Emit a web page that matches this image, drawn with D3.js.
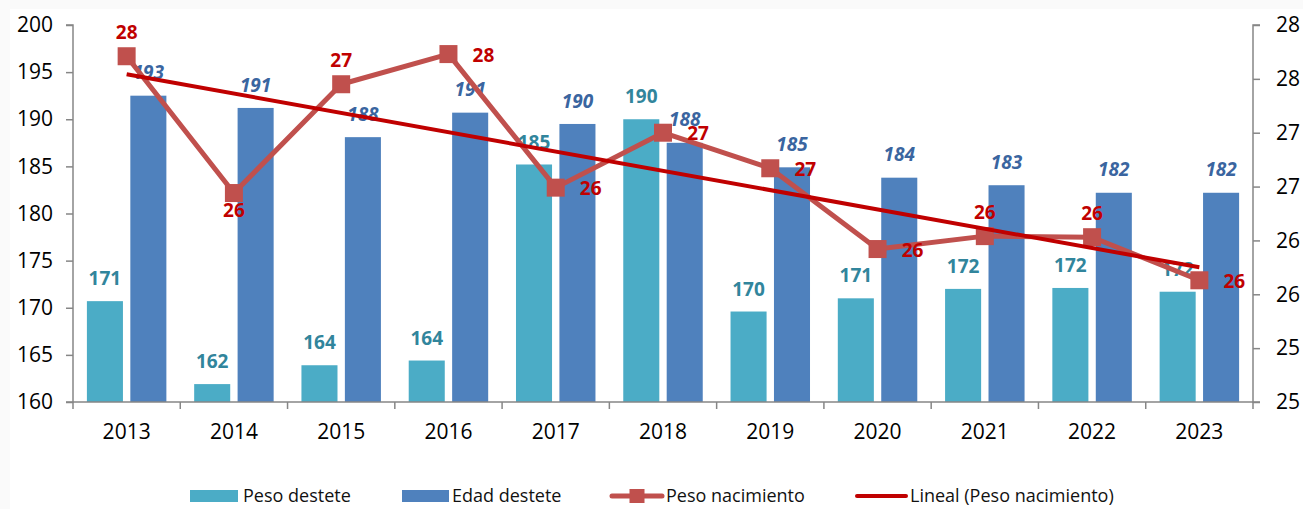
<!DOCTYPE html>
<html>
<head>
<meta charset="utf-8">
<script src="https://cdn.jsdelivr.net/npm/d3@7"></script>
<style>
  html, body { margin: 0; padding: 0; background: #ffffff; }
  svg { display: block; font-family: "Open Sans", "Noto Sans", sans-serif; }
</style>
</head>
<body>
<svg id="chart" width="1303" height="509"></svg>
<script>
// ---------- data ----------
const years = ["2013","2014","2015","2016","2017","2018","2019","2020","2021","2022","2023"];
const pesoDestete = [170.7, 161.9, 163.9, 164.4, 185.2, 190.0, 169.6, 171.0, 172.0, 172.1, 171.7];
const edadDestete = [192.5, 191.2, 188.1, 190.7, 189.5, 187.5, 184.9, 183.8, 183.0, 182.2, 182.2];
const pesoNacimiento = [27.71, 26.44, 27.45, 27.73, 26.49, 27.0, 26.67, 25.92, 26.04, 26.03, 25.63];
const leftTicks = [160, 165, 170, 175, 180, 185, 190, 195, 200];
const rightTicks = [24.5, 25, 25.5, 26, 26.5, 27, 27.5, 28];
const seriesNames = ["Peso destete", "Edad destete", "Peso nacimiento", "Lineal (Peso nacimiento)"];
// label placement of the line's data labels
const lineLabelPos = ["top","bottom","top","right","right","right","right","right","top","top","right"];

// ---------- styles ----------
const C = {
  light: "#4BACC6", dark: "#4F81BD", line: "#C0504D", trend: "#C00000",
  lightLbl: "#31859C", darkLbl: "#3A65A0", redLbl: "#C00000", axis: "#868686"
};

const svg = d3.select("#chart");
svg.append("rect").attr("width", 1303).attr("height", 509).attr("fill", "#fafafa");
svg.append("rect").attr("x", 10).attr("y", 9).attr("width", 1293).attr("height", 500).attr("fill", "#ffffff");

const L = 73, R = 1253, T = 25, B = 402;

const x = d3.scaleBand().domain(years).range([L, R]).paddingInner(0).paddingOuter(0);
const xs = d3.scaleBand().domain([0, 1]).range([0, x.bandwidth()]).paddingInner(0.17).paddingOuter(0.32);
const yL = d3.scaleLinear().domain([160, 200]).range([B, T]);
const yR = d3.scaleLinear().domain([24.5, 28]).range([B, T]);

// ---------- bars ----------
const bars = svg.append("g");
bars.selectAll("rect.l").data(pesoDestete).join("rect")
  .attr("x", (d, i) => x(years[i]) + xs(0)).attr("width", xs.bandwidth())
  .attr("y", d => yL(d)).attr("height", d => B - yL(d)).attr("fill", C.light);
bars.selectAll("rect.d").data(edadDestete).join("rect").attr("class", "d")
  .attr("x", (d, i) => x(years[i]) + xs(1)).attr("width", xs.bandwidth())
  .attr("y", d => yL(d)).attr("height", d => B - yL(d)).attr("fill", C.dark);

// ---------- axes ----------
const axL = svg.append("g").attr("transform", `translate(${L},0)`)
  .call(d3.axisLeft(yL).tickValues(leftTicks).tickSize(7).tickPadding(13).tickFormat(d3.format("d")));
const axR = svg.append("g").attr("transform", `translate(${R},0)`)
  .call(d3.axisRight(yR).tickValues(rightTicks).tickSize(7).tickPadding(16).tickFormat(d => String(Math.round(d))));
const axX = svg.append("g").attr("transform", `translate(0,${B})`)
  .call(d3.axisBottom(x).tickSize(0).tickPadding(22));
// category boundary ticks
svg.append("g").selectAll("line").data(years.concat(["end"])).join("line")
  .attr("x1", (d, i) => L + i * x.step()).attr("x2", (d, i) => L + i * x.step())
  .attr("y1", B).attr("y2", B + 7).attr("stroke", C.axis).attr("stroke-width", 1.5);

[axL, axR, axX].forEach(a => {
  a.select(".domain").attr("stroke", C.axis).attr("stroke-width", 1.5);
  a.selectAll(".tick line").attr("stroke", C.axis).attr("stroke-width", 1.5);
  a.selectAll(".tick text").attr("fill", "#000").style("font-size", "21px").style("font-family", '"Open Sans", sans-serif');
});
axL.select(".domain").attr("d", `M-7,${T}H0V${B}H-7`);
axR.select(".domain").attr("d", `M7,${T}H0V${B}H7`);
axX.select(".domain").attr("d", `M${L},0H${R}`);

// ---------- bar labels ----------
const fmt0 = d => String(Math.round(d));
svg.append("g").selectAll("text").data(pesoDestete).join("text")
  .attr("x", (d, i) => x(years[i]) + xs(0) + xs.bandwidth() / 2)
  .attr("y", d => yL(d) - 22.5).attr("dy", "0.35em").attr("text-anchor", "middle")
  .attr("fill", C.lightLbl).style("font-size", "19px").style("font-weight", "bold")
  .text(fmt0);
svg.append("g").selectAll("text").data(edadDestete).join("text")
  .attr("x", (d, i) => x(years[i]) + xs(1) + xs.bandwidth() / 2)
  .attr("y", d => yL(d) - 23).attr("dy", "0.35em").attr("text-anchor", "middle")
  .attr("fill", C.darkLbl).style("font-size", "19px").style("font-weight", "bold").style("font-style", "italic")
  .text(fmt0);

// ---------- line ----------
const cx = i => x(years[i]) + x.bandwidth() / 2;
const lineGen = d3.line().x((d, i) => cx(i)).y(d => yR(d));
svg.append("path").datum(pesoNacimiento).attr("d", lineGen)
  .attr("fill", "none").attr("stroke", C.line).attr("stroke-width", 5).attr("stroke-linejoin", "round");
svg.append("g").selectAll("rect").data(pesoNacimiento).join("rect")
  .attr("x", (d, i) => cx(i) - 9).attr("y", d => yR(d) - 9)
  .attr("width", 18).attr("height", 18).attr("fill", C.line);

// ---------- linear trend ----------
const n = pesoNacimiento.length;
const xsIdx = d3.range(1, n + 1);
const mx = d3.mean(xsIdx), my = d3.mean(pesoNacimiento);
const slope = d3.sum(xsIdx, (v, i) => (v - mx) * (pesoNacimiento[i] - my)) / d3.sum(xsIdx, v => (v - mx) ** 2);
const icpt = my - slope * mx;
svg.append("line")
  .attr("x1", cx(0)).attr("y1", yR(icpt + slope * 1))
  .attr("x2", cx(n - 1)).attr("y2", yR(icpt + slope * n))
  .attr("stroke", C.trend).attr("stroke-width", 4);

// ---------- line labels ----------
svg.append("g").selectAll("text").data(pesoNacimiento).join("text")
  .attr("x", (d, i) => cx(i) + (lineLabelPos[i] === "right" ? 35 : 0))
  .attr("y", (d, i) => yR(d) + (lineLabelPos[i] === "top" ? -24 : lineLabelPos[i] === "bottom" ? 17 : 1))
  .attr("dy", "0.35em").attr("text-anchor", "middle")
  .attr("fill", C.redLbl).style("font-size", "19px").style("font-weight", "bold")
  .text(fmt0);

// ---------- legend ----------
const lg = svg.append("g").style("font-size", "18px");
const ly = 496;
const legendItems = [
  { type: "rect", color: C.light, x0: 190, x1: 238, tx: 243 },
  { type: "rect", color: C.dark, x0: 402, x1: 449, tx: 452 },
  { type: "marker", color: C.line, x0: 612, x1: 662, tx: 666 },
  { type: "line", color: C.trend, x0: 857, x1: 906, tx: 910 }
];
legendItems.forEach((it, i) => {
  if (it.type === "rect") {
    lg.append("rect").attr("x", it.x0).attr("y", ly - 6).attr("width", it.x1 - it.x0).attr("height", 12).attr("fill", it.color);
  } else {
    lg.append("line").attr("x1", it.x0).attr("x2", it.x1).attr("y1", ly).attr("y2", ly)
      .attr("stroke", it.color).attr("stroke-width", it.type === "marker" ? 5 : 4).attr("stroke-linecap", "round");
    if (it.type === "marker") {
      lg.append("rect").attr("x", (it.x0 + it.x1) / 2 - 7.5).attr("y", ly - 7).attr("width", 15).attr("height", 14).attr("fill", it.color);
    }
  }
  lg.append("text").attr("x", it.tx).attr("y", ly).attr("dy", "0.35em").attr("fill", "#111").text(seriesNames[i]);
});
</script>
</body>
</html>
